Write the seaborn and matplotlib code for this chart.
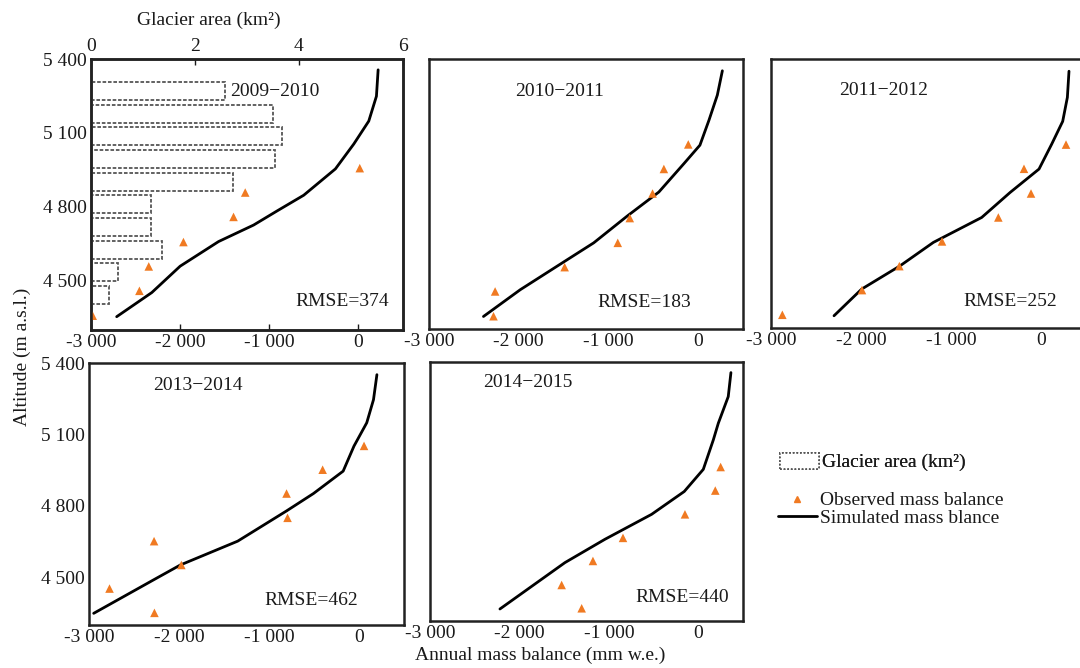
import matplotlib
matplotlib.use("Agg")
import matplotlib.pyplot as plt
import seaborn as sns
import pandas as pd
from matplotlib.ticker import FixedLocator, FuncFormatter
from matplotlib.patches import Patch
from matplotlib.lines import Line2D

# ---- data ----
periods = ["2009−2010", "2010−2011", "2011−2012", "2013−2014", "2014−2015"]
rmse = [374, 183, 252, 462, 440]

# glacier area per altitude band (only drawn in first panel)
area_alt = [5270, 5178, 5086, 4994, 4902, 4810, 4718, 4626, 4534, 4442]
area_km2 = [2.58, 3.50, 3.67, 3.54, 2.73, 1.15, 1.15, 1.36, 0.52, 0.35]

# simulated mass balance profiles (mm w.e., altitude m)
sim_x_0910 = [-2712, -2318, -2000, -1569, -1176, -914, -614, -258, -52, 116, 202, 221]
sim_y_0910 = [4354, 4452, 4559, 4659, 4726, 4783, 4847, 4954, 5055, 5148, 5249, 5356]
sim_x_1011 = [-2393, -1983, -1499, -1164, -791, -438, -158, 20, 121, 214, 270]
sim_y_1011 = [4351, 4460, 4573, 4651, 4760, 4858, 4974, 5049, 5151, 5253, 5352]
sim_x_1112 = [-2300, -1993, -1567, -1196, -659, -344, -22, 119, 241, 293, 311]
sim_y_1112 = [4350, 4459, 4554, 4650, 4752, 4854, 4950, 5052, 5145, 5243, 5350]
sim_x_1314 = [-2948, -2266, -1985, -1348, -805, -506, -176, -56, 86, 161, 199]
sim_y_1314 = [4349, 4493, 4552, 4652, 4779, 4852, 4946, 5051, 5149, 5246, 5351]
sim_x_1415 = [-2218, -1491, -1044, -522, -157, 56, 168, 224, 280, 335, 365]
sim_y_1415 = [4351, 4548, 4647, 4753, 4850, 4944, 5069, 5140, 5197, 5253, 5355]

# observed mass balance
obs_x_0910 = [-2981, -2457, -2352, -1963, -1401, -1270, 15]
obs_y_0910 = [4358, 4459, 4558, 4657, 4759, 4858, 4957]
obs_x_1011 = [-2281, -2263, -1488, -896, -762, -508, -382, -110]
obs_y_1011 = [4352, 4453, 4552, 4651, 4752, 4852, 4952, 5052]
obs_x_1112 = [-2874, -1989, -1574, -1100, -474, -111, -189, 278]
obs_y_1112 = [4354, 4455, 4553, 4654, 4752, 4850, 4951, 5050]
obs_x_1314 = [-2273, -2772, -1974, -2277, -794, -805, -404, 56]
obs_y_1314 = [4351, 4453, 4552, 4652, 4750, 4852, 4952, 5052]
obs_x_1415 = [-1304, -1528, -1178, -842, -149, 190, 250]
obs_y_1415 = [4354, 4453, 4555, 4653, 4753, 4854, 4954]

# label anchors (data coords)
period_pos = [(-1438, 5267), (-2039, 5267), (-2244, 5272), (-2285, 5304), (-2408, 5311)]
rmse_pos = [(-708, 4416), (-1123, 4408), (-867, 4408), (-1056, 4404), (-698, 4398)]

sims = [(sim_x_0910, sim_y_0910), (sim_x_1011, sim_y_1011), (sim_x_1112, sim_y_1112),
        (sim_x_1314, sim_y_1314), (sim_x_1415, sim_y_1415)]
obs = [(obs_x_0910, obs_y_0910), (obs_x_1011, obs_y_1011), (obs_x_1112, obs_y_1112),
       (obs_x_1314, obs_y_1314), (obs_x_1415, obs_y_1415)]

ORANGE = "#f07a22"
INK = "#1a1a1a"
W, H = 1080, 668

sns.set_style("white")
plt.rcParams["font.family"] = ["Liberation Serif", "DejaVu Serif"]
plt.rcParams["font.size"] = 14
plt.rcParams["text.color"] = INK
plt.rcParams["xtick.color"] = INK
plt.rcParams["ytick.color"] = INK

fig = plt.figure(figsize=(W / 100, H / 100), dpi=100)

# panel boxes in pixels: left, top, right, bottom
boxes = [(91, 59, 403, 330), (429, 59, 743, 329), (771, 59, 1086, 328),
         (89, 363, 404, 625), (430, 362, 743, 621)]

fmt = FuncFormatter(lambda v, p: f"{v:,.0f}".replace(",", " "))

for i, (l, t, r, b) in enumerate(boxes):
    ax = fig.add_axes([l / W, 1 - b / H, (r - l) / W, (b - t) / H])
    sx, sy = sims[i]
    ox, oy = obs[i]
    sns.lineplot(x=sx, y=sy, sort=False, estimator=None, color="black", lw=2, ax=ax)
    sns.scatterplot(x=ox, y=oy, marker="^", color=ORANGE, s=38, edgecolor="none", ax=ax, zorder=3)
    ax.set_xlim(-3000, 500)
    ax.set_ylim(4300, 5400)
    ax.xaxis.set_major_locator(FixedLocator([-3000, -2000, -1000, 0]))
    ax.yaxis.set_major_locator(FixedLocator([4500, 4800, 5100, 5400]))
    ax.xaxis.set_major_formatter(fmt)
    ax.yaxis.set_major_formatter(fmt)
    ax.tick_params(direction="in", length=4, width=1, labelsize=14, pad=3)
    if i in (1, 2, 4):
        ax.set_yticklabels([])
    for s in ax.spines.values():
        s.set_linewidth(1.8)
        s.set_color("#222222")
    ax.text(*period_pos[i], periods[i], fontsize=14, ha="left", va="center")
    ax.text(*rmse_pos[i], f"RMSE={rmse[i]}", fontsize=14, ha="left", va="center")

    if i == 0:
        ax2 = ax.twiny()
        ax2.barh(area_alt, area_km2, height=74, left=0, facecolor="none",
                 edgecolor="#555555", linestyle=(0, (2, 1)), linewidth=1.3)
        ax2.set_xlim(0, 6)
        ax2.set_ylim(4300, 5400)
        ax2.xaxis.set_major_locator(FixedLocator([0, 2, 4, 6]))
        ax2.tick_params(direction="in", length=4, width=1, labelsize=14, pad=3)
        for s in ax2.spines.values():
            s.set_linewidth(1.8)
            s.set_color("#222222")

fig.text(209 / W, 1 - 20 / H, "Glacier area (km²)", ha="center", va="center", fontsize=14)
fig.text(22 / W, 1 - 357 / H, "Altitude (m a.s.l.)", ha="center", va="center",
         rotation=90, fontsize=14)
fig.text(540 / W, 1 - 655 / H, "Annual mass balance (mm w.e.)", ha="center", va="center", fontsize=14)

leg1 = fig.legend(handles=[Patch(facecolor="white", edgecolor="#555555", linestyle=(0, (1, 1)), linewidth=1.3)],
                  labels=["Glacier area (km²)"], loc="center left",
                  bbox_to_anchor=(770 / W, 1 - 462 / H), frameon=False, fontsize=14,
                  handlelength=2.0, handleheight=0.9, handletextpad=0.2, borderpad=0)
fig.add_artist(leg1)
fig.legend(handles=[Line2D([], [], marker="^", ls="none", color=ORANGE, ms=4),
                    Line2D([], [], color="black", lw=2)],
           labels=["Observed mass balance", "Simulated mass blance"], loc="upper left",
           bbox_to_anchor=(768 / W, 1 - 482 / H), frameon=False, fontsize=14,
           handlelength=2.0, handletextpad=0.2, labelspacing=0.0, borderpad=0)

fig.savefig("out.png", dpi=100)
